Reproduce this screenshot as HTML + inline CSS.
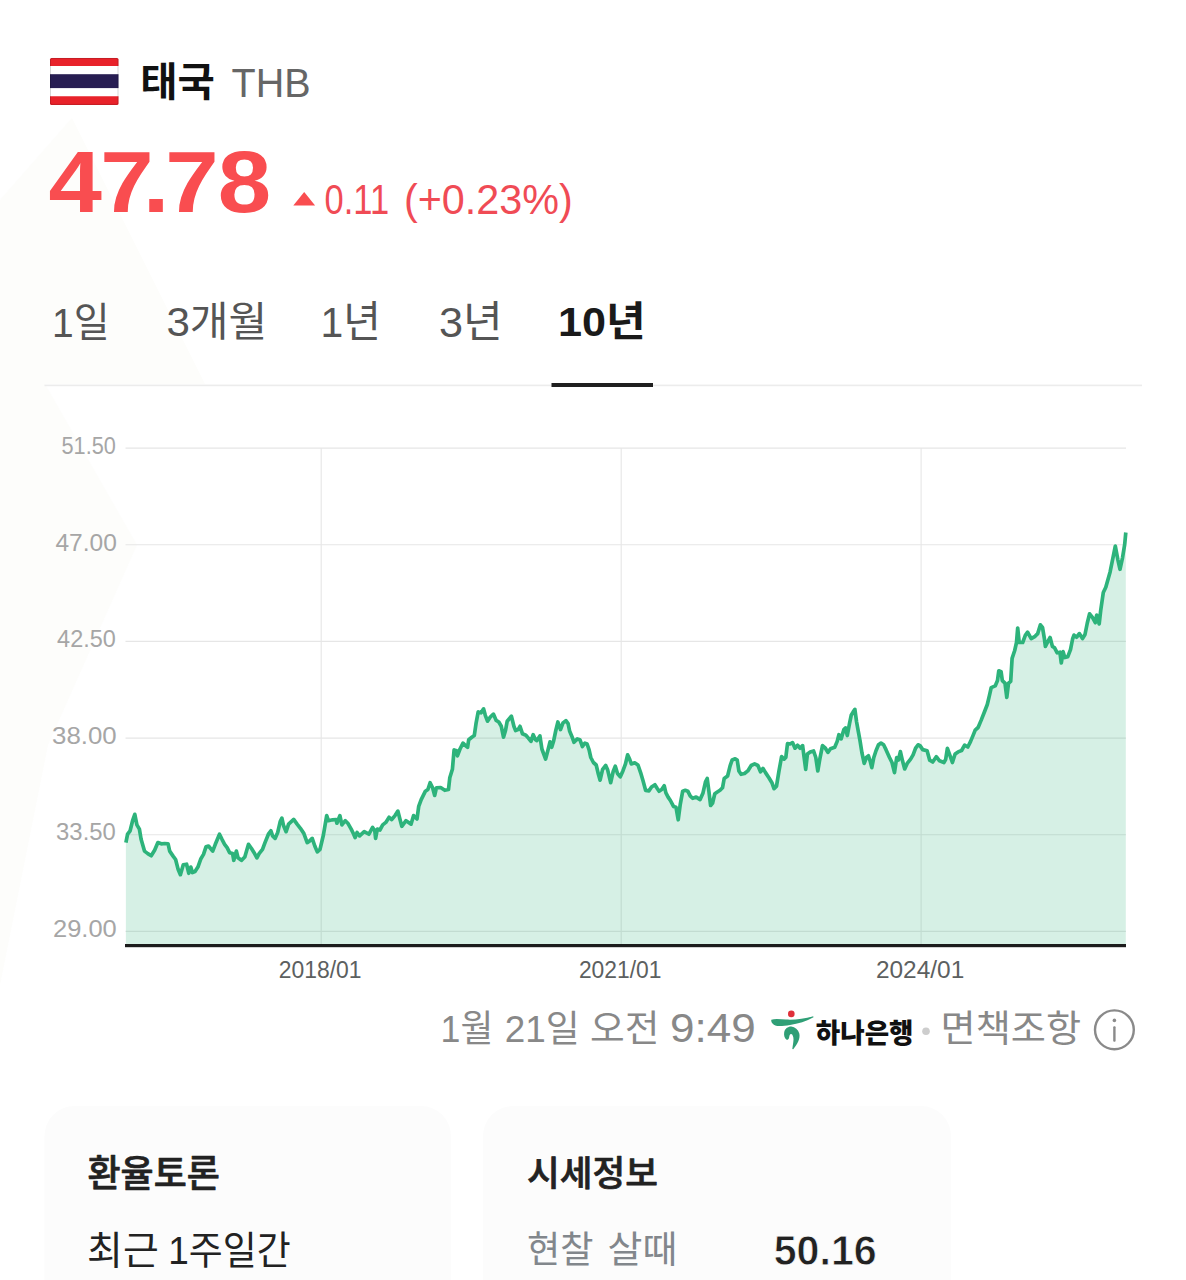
<!DOCTYPE html>
<html lang="ko">
<head>
<meta charset="utf-8">
<title>태국 THB 환율</title>
<style>
html,body{margin:0;padding:0;background:#fff;}
body{width:1186px;height:1280px;overflow:hidden;}
svg{display:block;font-family:"Liberation Sans","Noto Sans CJK KR",sans-serif;}
</style>
</head>
<body>
<svg width="1186" height="1280" viewBox="0 0 1186 1280">
  <!-- faint background watermark tint -->
  <polygon points="0,200 72,118 205,384 45,384 137,545 48,745 0,985" fill="#fdfdfb"/>
  <!-- cards -->
  <path d="M44.5,1280V1136a30,30 0 0 1 30,-30H421a30,30 0 0 1 30,30V1280Z" fill="#fcfcfc"/>
  <path d="M483,1280V1136a30,30 0 0 1 30,-30H921a30,30 0 0 1 30,30V1280Z" fill="#fcfcfc"/>

  <!-- flag -->
  <g>
    <rect x="50" y="57.9" width="68.5" height="47" rx="1.5" fill="#fff"/>
    <path d="M50,59.4a1.5,1.5 0 0 1 1.5,-1.5h65.5a1.5,1.5 0 0 1 1.5,1.5V65.9H50Z" fill="#e8222a"/>
    <rect x="50" y="74.2" width="68.5" height="13.9" fill="#271d52"/>
    <path d="M50,96.2H118.5V103.4a1.5,1.5 0 0 1 -1.5,1.5H51.5a1.5,1.5 0 0 1 -1.5,-1.5Z" fill="#e8222a"/>
    <rect x="50.5" y="58.4" width="67.5" height="46" rx="1.5" fill="none" stroke="#000" stroke-opacity=".16" stroke-width="1"/>
  </g>

  <!-- change triangle -->
  <path d="M293.3,205.4 L304.2,192.1 L315.1,205.4Z" fill="#f94d50"/>

  <!-- tabs divider + active underline -->
  <rect x="44.5" y="384.6" width="1097.5" height="1.6" fill="#ececec"/>
  <rect x="551.5" y="383" width="101.5" height="4" fill="#1f1f1f"/>

  <!-- chart -->
  <g stroke="#e6e6e6" stroke-width="1.1" fill="none">
    <path d="M125.5,448.1H1126M125.5,544.8H1126M125.5,641.4H1126M125.5,738.1H1126M125.5,834.7H1126M125.5,931.4H1126"/>
    <path d="M321.2,448V945M621.2,448V945M921.1,448V945"/>
  </g>
  <path d="M125.9,842.6 L127.6,834.2 L130.1,830.8 L132.6,820.7 L134.8,814.3 L136.9,824.9 L139.4,829.1 L141.1,839.3 L144.5,851.1 L147.8,853.6 L151.2,855.8 L154.6,850.2 L157.9,842.6 L161.3,843.8 L164.7,843.5 L168.1,843.8 L169.7,851.1 L173.1,856.1 L175.6,859.5 L178.2,869.6 L180.4,874.7 L183.2,864.9 L186.6,864.2 L188.8,873.3 L190.8,867.1 L192.5,872.6 L195.0,871.6 L197.9,867.1 L200.9,858.7 L203.5,854.4 L206.0,846.8 L208.5,846.0 L212.7,851.1 L215.3,844.3 L219.5,834.2 L222.0,839.3 L224.6,844.3 L227.1,847.7 L229.6,852.7 L232.6,853.6 L233.8,860.3 L236.4,851.1 L238.0,857.8 L241.4,860.3 L244.8,857.0 L248.5,844.3 L251.5,848.5 L254.1,852.7 L256.9,857.8 L259.1,853.6 L262.5,849.4 L265.0,842.6 L268.4,834.2 L270.9,830.8 L272.6,835.9 L275.1,838.4 L277.7,832.5 L280.2,821.6 L281.9,818.2 L283.6,825.8 L286.1,831.7 L288.6,824.1 L293.7,819.4 L297.1,824.1 L300.4,828.3 L303.8,833.4 L307.2,842.6 L309.7,840.9 L312.2,838.4 L314.8,846.0 L317.3,851.9 L320.0,849.4 L323.4,835.0 L326.7,815.6 L328.4,820.7 L332.6,819.8 L336.0,819.5 L336.9,823.2 L339.9,815.6 L341.9,824.9 L345.3,820.7 L347.8,823.2 L351.2,829.1 L353.7,834.2 L355.1,837.6 L357.1,832.5 L359.6,835.9 L364.2,831.7 L368.9,834.2 L372.6,827.4 L374.8,830.8 L375.6,838.4 L377.3,829.1 L379.9,830.0 L382.7,824.9 L385.8,822.4 L389.1,817.3 L391.7,819.5 L395.0,815.6 L397.9,811.1 L400.1,819.8 L401.8,826.3 L406.0,820.7 L411.1,824.1 L413.6,815.6 L417.0,819.0 L418.7,806.4 L421.2,799.6 L425.4,791.2 L427.9,789.5 L430.1,782.7 L432.6,787.8 L434.7,795.4 L436.4,787.8 L440.6,787.5 L444.8,790.3 L448.5,789.5 L449.8,777.7 L452.4,769.3 L454.1,749.9 L456.6,750.7 L457.4,755.8 L460.0,749.0 L463.0,743.1 L465.4,745.6 L467.6,747.3 L468.7,739.7 L471.8,737.2 L474.3,735.5 L476.0,723.7 L478.2,711.9 L481.0,712.8 L483.6,708.9 L485.3,715.3 L487.5,721.2 L490.3,717.0 L493.4,714.1 L496.2,720.4 L498.8,722.0 L501.3,726.3 L503.5,737.2 L505.5,730.5 L507.2,721.2 L511.4,716.1 L513.9,726.3 L515.6,730.5 L518.1,729.6 L520.0,726.3 L522.5,733.8 L525.9,735.2 L528.4,738.1 L531.0,741.4 L533.2,734.7 L535.5,739.7 L536.9,740.6 L539.9,735.9 L541.9,749.0 L545.6,759.1 L547.8,750.7 L550.0,741.9 L551.7,747.3 L553.7,740.6 L555.8,730.5 L557.9,722.0 L560.5,729.6 L563.0,722.9 L565.9,720.7 L568.1,723.7 L569.7,731.3 L571.9,736.4 L574.0,742.3 L577.3,738.9 L579.9,739.7 L582.4,746.5 L584.9,743.1 L587.1,744.0 L589.1,749.9 L590.8,757.5 L593.4,762.5 L596.2,765.0 L598.4,774.3 L600.1,780.2 L602.6,769.3 L605.7,765.5 L607.7,770.1 L610.7,782.7 L613.1,771.8 L615.3,766.2 L617.5,773.5 L620.3,776.8 L622.9,770.9 L625.4,764.2 L627.6,754.9 L629.6,759.1 L631.3,763.9 L634.7,762.8 L638.0,765.0 L640.6,772.6 L643.1,781.1 L645.6,790.3 L649.0,790.8 L651.5,787.0 L654.9,784.8 L657.4,788.7 L659.1,791.2 L661.7,789.5 L664.2,785.8 L665.9,792.9 L668.1,797.1 L670.4,800.5 L673.5,806.4 L676.0,807.2 L678.2,819.8 L680.2,804.7 L682.7,791.2 L685.3,790.3 L687.8,791.2 L690.3,796.2 L692.8,798.3 L696.2,797.1 L700.1,799.6 L703.0,792.9 L705.5,781.9 L707.2,778.5 L708.9,791.2 L710.6,805.5 L712.6,803.0 L714.8,793.7 L717.3,792.0 L720.0,790.3 L722.5,787.8 L724.2,778.5 L727.6,776.0 L730.1,765.9 L732.1,760.0 L735.2,758.8 L737.2,760.0 L738.9,770.9 L741.1,774.3 L744.5,773.5 L747.8,770.9 L751.2,765.5 L754.6,763.9 L757.9,765.5 L760.5,771.8 L763.0,768.4 L765.5,772.6 L768.9,777.7 L771.9,782.7 L774.0,788.7 L776.5,786.1 L779.0,770.9 L781.6,756.6 L784.1,759.1 L785.8,757.5 L787.5,743.6 L790.0,744.0 L792.5,742.6 L795.0,748.2 L797.6,745.3 L800.1,748.2 L802.6,745.6 L804.0,756.6 L805.7,769.3 L807.4,754.1 L810.2,752.1 L813.6,751.0 L815.8,757.5 L817.8,770.9 L819.8,759.1 L822.5,745.6 L825.4,748.2 L827.9,752.4 L830.5,748.7 L834.7,747.3 L837.2,741.4 L838.9,734.7 L841.1,738.9 L843.9,729.6 L845.6,727.9 L847.3,735.5 L849.5,723.7 L851.2,715.3 L853.2,711.9 L854.9,709.4 L856.6,722.0 L858.3,731.3 L860.0,740.6 L862.0,753.2 L864.2,763.4 L866.4,757.5 L868.4,755.8 L870.1,760.8 L871.8,767.6 L873.8,757.5 L876.0,750.7 L878.5,744.8 L881.0,743.1 L883.6,744.8 L886.1,749.9 L889.5,757.5 L892.0,762.5 L894.5,772.6 L896.7,757.5 L898.4,760.0 L900.4,751.6 L902.5,760.8 L904.7,768.9 L907.2,763.4 L910.6,759.1 L913.1,754.9 L915.6,748.2 L918.1,744.8 L920.0,745.6 L922.7,749.6 L927.1,750.8 L929.7,760.2 L932.7,762.0 L936.3,756.7 L939.5,760.8 L943.9,762.5 L945.7,759.3 L947.4,748.4 L950.1,755.8 L952.4,762.5 L955.1,754.0 L958.1,751.9 L961.6,750.5 L964.6,745.2 L967.8,747.0 L970.5,741.6 L973.1,735.4 L975.2,730.1 L978.1,727.5 L981.1,720.4 L984.6,711.5 L987.3,704.5 L989.4,695.6 L991.2,687.6 L995.2,685.9 L997.5,680.6 L998.8,670.8 L1001.1,671.7 L1002.3,680.6 L1005.0,683.2 L1006.8,697.4 L1008.5,683.2 L1010.7,681.4 L1012.1,658.4 L1014.7,650.5 L1016.5,642.5 L1017.7,628.0 L1019.2,642.5 L1022.7,642.5 L1025.3,635.4 L1027.6,632.2 L1031.2,638.6 L1035.1,636.3 L1037.7,633.6 L1040.4,624.8 L1042.5,627.4 L1044.3,638.1 L1045.4,646.4 L1047.8,641.6 L1050.1,637.5 L1052.4,646.4 L1054.6,647.8 L1057.2,652.8 L1059.9,652.2 L1061.3,662.9 L1063.1,651.7 L1064.8,657.5 L1067.8,656.7 L1070.5,649.6 L1072.6,639.0 L1074.0,635.1 L1076.7,637.2 L1079.3,633.6 L1082.5,638.6 L1085.0,634.5 L1087.3,623.0 L1089.6,613.8 L1092.6,617.7 L1095.3,622.7 L1096.7,615.0 L1099.2,623.9 L1100.7,610.5 L1103.3,592.5 L1105.8,587.3 L1110.1,571.9 L1113.6,554.7 L1115.3,546.1 L1117.9,559.8 L1120.0,569.3 L1122.6,557.3 L1124.7,544.4 L1125.8,532.5 L1125.8,945 L125.9,945 Z" fill="#2cb27a" fill-opacity="0.195"/>
  <path d="M125.9,842.6 L127.6,834.2 L130.1,830.8 L132.6,820.7 L134.8,814.3 L136.9,824.9 L139.4,829.1 L141.1,839.3 L144.5,851.1 L147.8,853.6 L151.2,855.8 L154.6,850.2 L157.9,842.6 L161.3,843.8 L164.7,843.5 L168.1,843.8 L169.7,851.1 L173.1,856.1 L175.6,859.5 L178.2,869.6 L180.4,874.7 L183.2,864.9 L186.6,864.2 L188.8,873.3 L190.8,867.1 L192.5,872.6 L195.0,871.6 L197.9,867.1 L200.9,858.7 L203.5,854.4 L206.0,846.8 L208.5,846.0 L212.7,851.1 L215.3,844.3 L219.5,834.2 L222.0,839.3 L224.6,844.3 L227.1,847.7 L229.6,852.7 L232.6,853.6 L233.8,860.3 L236.4,851.1 L238.0,857.8 L241.4,860.3 L244.8,857.0 L248.5,844.3 L251.5,848.5 L254.1,852.7 L256.9,857.8 L259.1,853.6 L262.5,849.4 L265.0,842.6 L268.4,834.2 L270.9,830.8 L272.6,835.9 L275.1,838.4 L277.7,832.5 L280.2,821.6 L281.9,818.2 L283.6,825.8 L286.1,831.7 L288.6,824.1 L293.7,819.4 L297.1,824.1 L300.4,828.3 L303.8,833.4 L307.2,842.6 L309.7,840.9 L312.2,838.4 L314.8,846.0 L317.3,851.9 L320.0,849.4 L323.4,835.0 L326.7,815.6 L328.4,820.7 L332.6,819.8 L336.0,819.5 L336.9,823.2 L339.9,815.6 L341.9,824.9 L345.3,820.7 L347.8,823.2 L351.2,829.1 L353.7,834.2 L355.1,837.6 L357.1,832.5 L359.6,835.9 L364.2,831.7 L368.9,834.2 L372.6,827.4 L374.8,830.8 L375.6,838.4 L377.3,829.1 L379.9,830.0 L382.7,824.9 L385.8,822.4 L389.1,817.3 L391.7,819.5 L395.0,815.6 L397.9,811.1 L400.1,819.8 L401.8,826.3 L406.0,820.7 L411.1,824.1 L413.6,815.6 L417.0,819.0 L418.7,806.4 L421.2,799.6 L425.4,791.2 L427.9,789.5 L430.1,782.7 L432.6,787.8 L434.7,795.4 L436.4,787.8 L440.6,787.5 L444.8,790.3 L448.5,789.5 L449.8,777.7 L452.4,769.3 L454.1,749.9 L456.6,750.7 L457.4,755.8 L460.0,749.0 L463.0,743.1 L465.4,745.6 L467.6,747.3 L468.7,739.7 L471.8,737.2 L474.3,735.5 L476.0,723.7 L478.2,711.9 L481.0,712.8 L483.6,708.9 L485.3,715.3 L487.5,721.2 L490.3,717.0 L493.4,714.1 L496.2,720.4 L498.8,722.0 L501.3,726.3 L503.5,737.2 L505.5,730.5 L507.2,721.2 L511.4,716.1 L513.9,726.3 L515.6,730.5 L518.1,729.6 L520.0,726.3 L522.5,733.8 L525.9,735.2 L528.4,738.1 L531.0,741.4 L533.2,734.7 L535.5,739.7 L536.9,740.6 L539.9,735.9 L541.9,749.0 L545.6,759.1 L547.8,750.7 L550.0,741.9 L551.7,747.3 L553.7,740.6 L555.8,730.5 L557.9,722.0 L560.5,729.6 L563.0,722.9 L565.9,720.7 L568.1,723.7 L569.7,731.3 L571.9,736.4 L574.0,742.3 L577.3,738.9 L579.9,739.7 L582.4,746.5 L584.9,743.1 L587.1,744.0 L589.1,749.9 L590.8,757.5 L593.4,762.5 L596.2,765.0 L598.4,774.3 L600.1,780.2 L602.6,769.3 L605.7,765.5 L607.7,770.1 L610.7,782.7 L613.1,771.8 L615.3,766.2 L617.5,773.5 L620.3,776.8 L622.9,770.9 L625.4,764.2 L627.6,754.9 L629.6,759.1 L631.3,763.9 L634.7,762.8 L638.0,765.0 L640.6,772.6 L643.1,781.1 L645.6,790.3 L649.0,790.8 L651.5,787.0 L654.9,784.8 L657.4,788.7 L659.1,791.2 L661.7,789.5 L664.2,785.8 L665.9,792.9 L668.1,797.1 L670.4,800.5 L673.5,806.4 L676.0,807.2 L678.2,819.8 L680.2,804.7 L682.7,791.2 L685.3,790.3 L687.8,791.2 L690.3,796.2 L692.8,798.3 L696.2,797.1 L700.1,799.6 L703.0,792.9 L705.5,781.9 L707.2,778.5 L708.9,791.2 L710.6,805.5 L712.6,803.0 L714.8,793.7 L717.3,792.0 L720.0,790.3 L722.5,787.8 L724.2,778.5 L727.6,776.0 L730.1,765.9 L732.1,760.0 L735.2,758.8 L737.2,760.0 L738.9,770.9 L741.1,774.3 L744.5,773.5 L747.8,770.9 L751.2,765.5 L754.6,763.9 L757.9,765.5 L760.5,771.8 L763.0,768.4 L765.5,772.6 L768.9,777.7 L771.9,782.7 L774.0,788.7 L776.5,786.1 L779.0,770.9 L781.6,756.6 L784.1,759.1 L785.8,757.5 L787.5,743.6 L790.0,744.0 L792.5,742.6 L795.0,748.2 L797.6,745.3 L800.1,748.2 L802.6,745.6 L804.0,756.6 L805.7,769.3 L807.4,754.1 L810.2,752.1 L813.6,751.0 L815.8,757.5 L817.8,770.9 L819.8,759.1 L822.5,745.6 L825.4,748.2 L827.9,752.4 L830.5,748.7 L834.7,747.3 L837.2,741.4 L838.9,734.7 L841.1,738.9 L843.9,729.6 L845.6,727.9 L847.3,735.5 L849.5,723.7 L851.2,715.3 L853.2,711.9 L854.9,709.4 L856.6,722.0 L858.3,731.3 L860.0,740.6 L862.0,753.2 L864.2,763.4 L866.4,757.5 L868.4,755.8 L870.1,760.8 L871.8,767.6 L873.8,757.5 L876.0,750.7 L878.5,744.8 L881.0,743.1 L883.6,744.8 L886.1,749.9 L889.5,757.5 L892.0,762.5 L894.5,772.6 L896.7,757.5 L898.4,760.0 L900.4,751.6 L902.5,760.8 L904.7,768.9 L907.2,763.4 L910.6,759.1 L913.1,754.9 L915.6,748.2 L918.1,744.8 L920.0,745.6 L922.7,749.6 L927.1,750.8 L929.7,760.2 L932.7,762.0 L936.3,756.7 L939.5,760.8 L943.9,762.5 L945.7,759.3 L947.4,748.4 L950.1,755.8 L952.4,762.5 L955.1,754.0 L958.1,751.9 L961.6,750.5 L964.6,745.2 L967.8,747.0 L970.5,741.6 L973.1,735.4 L975.2,730.1 L978.1,727.5 L981.1,720.4 L984.6,711.5 L987.3,704.5 L989.4,695.6 L991.2,687.6 L995.2,685.9 L997.5,680.6 L998.8,670.8 L1001.1,671.7 L1002.3,680.6 L1005.0,683.2 L1006.8,697.4 L1008.5,683.2 L1010.7,681.4 L1012.1,658.4 L1014.7,650.5 L1016.5,642.5 L1017.7,628.0 L1019.2,642.5 L1022.7,642.5 L1025.3,635.4 L1027.6,632.2 L1031.2,638.6 L1035.1,636.3 L1037.7,633.6 L1040.4,624.8 L1042.5,627.4 L1044.3,638.1 L1045.4,646.4 L1047.8,641.6 L1050.1,637.5 L1052.4,646.4 L1054.6,647.8 L1057.2,652.8 L1059.9,652.2 L1061.3,662.9 L1063.1,651.7 L1064.8,657.5 L1067.8,656.7 L1070.5,649.6 L1072.6,639.0 L1074.0,635.1 L1076.7,637.2 L1079.3,633.6 L1082.5,638.6 L1085.0,634.5 L1087.3,623.0 L1089.6,613.8 L1092.6,617.7 L1095.3,622.7 L1096.7,615.0 L1099.2,623.9 L1100.7,610.5 L1103.3,592.5 L1105.8,587.3 L1110.1,571.9 L1113.6,554.7 L1115.3,546.1 L1117.9,559.8 L1120.0,569.3 L1122.6,557.3 L1124.7,544.4 L1125.8,532.5" fill="none" stroke="#2db37b" stroke-width="3.7" stroke-linejoin="round" stroke-linecap="butt"/>
  <rect x="125" y="944" width="1001" height="3.2" fill="#1c1c1c"/>

  <!-- hana bank logo -->
  <g>
    <circle cx="791.3" cy="1013.9" r="3.3" fill="#e0303a"/>
    <path d="M771.3,1019.8 C775,1018.4 781,1019.3 786,1019.6 C795,1020 804,1019 813.2,1016.3 L813.5,1017.3 C806.5,1021.6 798,1023.8 790,1025 C784,1026 779,1026.4 776,1025.7 C773,1024.8 770.8,1022.2 771.3,1019.8Z" fill="#2f9f76"/>
    <path d="M791.3,1026.6 C795,1027.2 798.2,1029.5 799.3,1033.5 C800.5,1038.2 797.6,1044.2 793.2,1049.2 L792.3,1048.9 C792.9,1044 794,1040 793.3,1037.2 C792.8,1035 791.8,1033.7 790.8,1034 C789.6,1034.3 789.5,1036 789,1038 C788.5,1039.7 787.3,1040.2 786.3,1039.5 C784.5,1038.1 783.7,1035 784.2,1032.2 C784.9,1028.9 787.6,1026.6 791.3,1026.6Z" fill="#2f9f76"/>
  </g>
  <circle cx="926" cy="1031.2" r="3.8" fill="#cdcdcd"/>
  <!-- info icon -->
  <g>
    <circle cx="1114.4" cy="1029.8" r="19.4" fill="none" stroke="#8a8a8a" stroke-width="2.4"/>
    <circle cx="1114.4" cy="1020.4" r="1.8" fill="#8a8a8a"/>
    <rect x="1113.2" y="1026.2" width="2.4" height="15.6" rx="1" fill="#8a8a8a"/>
  </g>

  <text transform="scale(1.1076,1)" x="43.71 90.62 128.80 149.16 196.52" y="212.00" font-size="86.71" font-weight="700" fill="#f94d50">47.78</text>
  <text x="140.20" y="96.30" font-size="40.07" font-weight="700" fill="#111" textLength="74.61" lengthAdjust="spacingAndGlyphs">태국</text>
  <text x="231.50" y="97.30" font-size="41.43" font-weight="400" fill="#666" textLength="79.04" lengthAdjust="spacingAndGlyphs">THB</text>
  <text y="213.80" font-size="42.22" font-weight="400" fill="#f04b55"><tspan x="324.60" textLength="64.53" lengthAdjust="spacingAndGlyphs">0.11</tspan> <tspan x="403.90" textLength="168.78" lengthAdjust="spacingAndGlyphs">(+0.23%)</tspan></text>
  <text x="52.10" y="337.10" font-size="41.32" font-weight="400" fill="#555" textLength="57.52" lengthAdjust="spacingAndGlyphs">1일</text>
  <text x="166.40" y="336.10" font-size="40.57" font-weight="400" fill="#555" textLength="100.94" lengthAdjust="spacingAndGlyphs">3개월</text>
  <text x="320.60" y="337.10" font-size="43.09" font-weight="400" fill="#555" textLength="60.38" lengthAdjust="spacingAndGlyphs">1년</text>
  <text x="439.00" y="337.10" font-size="43.09" font-weight="400" fill="#555" textLength="63.78" lengthAdjust="spacingAndGlyphs">3년</text>
  <text x="558.10" y="336.10" font-size="40.57" font-weight="700" fill="#1a1a1a" textLength="87.75" lengthAdjust="spacingAndGlyphs">10년</text>
  <text x="61.50" y="454.00" font-size="24.17" font-weight="400" fill="#a6a6a6" textLength="54.33" lengthAdjust="spacingAndGlyphs">51.50</text>
  <text x="55.40" y="550.90" font-size="24.17" font-weight="400" fill="#a6a6a6" textLength="61.42" lengthAdjust="spacingAndGlyphs">47.00</text>
  <text x="57.10" y="647.10" font-size="24.17" font-weight="400" fill="#a6a6a6" textLength="58.77" lengthAdjust="spacingAndGlyphs">42.50</text>
  <text x="52.10" y="744.00" font-size="24.17" font-weight="400" fill="#a6a6a6" textLength="64.65" lengthAdjust="spacingAndGlyphs">38.00</text>
  <text x="56.10" y="840.20" font-size="24.17" font-weight="400" fill="#a6a6a6" textLength="59.70" lengthAdjust="spacingAndGlyphs">33.50</text>
  <text x="53.00" y="937.10" font-size="24.17" font-weight="400" fill="#a6a6a6" textLength="63.74" lengthAdjust="spacingAndGlyphs">29.00</text>
  <text x="278.70" y="978.30" font-size="24.32" font-weight="400" fill="#5c6060" textLength="82.81" lengthAdjust="spacingAndGlyphs">2018/01</text>
  <text x="578.90" y="978.30" font-size="24.32" font-weight="400" fill="#5c6060" textLength="82.59" lengthAdjust="spacingAndGlyphs">2021/01</text>
  <text x="875.90" y="978.30" font-size="24.32" font-weight="400" fill="#5c6060" textLength="88.36" lengthAdjust="spacingAndGlyphs">2024/01</text>
  <text y="1042.40" font-size="37.48" font-weight="400" fill="#888"><tspan x="440.60" textLength="52.74" lengthAdjust="spacingAndGlyphs">1월</tspan> <tspan x="504.70" textLength="74.89" lengthAdjust="spacingAndGlyphs">21일</tspan> <tspan x="590.10" textLength="69.45" lengthAdjust="spacingAndGlyphs">오전</tspan> <tspan x="669.90" font-size="41.22" textLength="85.75" lengthAdjust="spacingAndGlyphs">9:49</tspan></text>
  <text x="815.80" y="1042.70" font-size="27.46" font-weight="900" fill="#111" textLength="97.72" lengthAdjust="spacingAndGlyphs">하나은행</text>
  <text x="940.60" y="1042.40" font-size="36.96" font-weight="400" fill="#888" textLength="140.49" lengthAdjust="spacingAndGlyphs">면책조항</text>
  <text x="87.50" y="1187.10" font-size="37.28" font-weight="500" fill="#222" stroke="#222" stroke-width="0.7" stroke-linejoin="round" textLength="132.26" lengthAdjust="spacingAndGlyphs">환율토론</text>
  <text y="1263.60" font-size="38.34" font-weight="400" fill="#222"><tspan x="87.10" textLength="71.65" lengthAdjust="spacingAndGlyphs">최근</tspan> <tspan x="168.30" textLength="122.53" lengthAdjust="spacingAndGlyphs">1주일간</tspan></text>
  <text x="527.10" y="1186.40" font-size="35.33" font-weight="500" fill="#222" stroke="#222" stroke-width="0.7" stroke-linejoin="round" textLength="130.89" lengthAdjust="spacingAndGlyphs">시세정보</text>
  <text y="1263.40" font-size="37.33" font-weight="400" fill="#82878c"><tspan x="527.10" textLength="66.39" lengthAdjust="spacingAndGlyphs">현찰</tspan> <tspan x="607.60" textLength="69.83" lengthAdjust="spacingAndGlyphs">살때</tspan></text>
  <text x="773.70" y="1265.30" font-size="42.69" font-weight="700" fill="#222" stroke="#fcfcfc" stroke-width="0.8" textLength="102.99" lengthAdjust="spacingAndGlyphs">50.16</text>
</svg>
</body>
</html>
